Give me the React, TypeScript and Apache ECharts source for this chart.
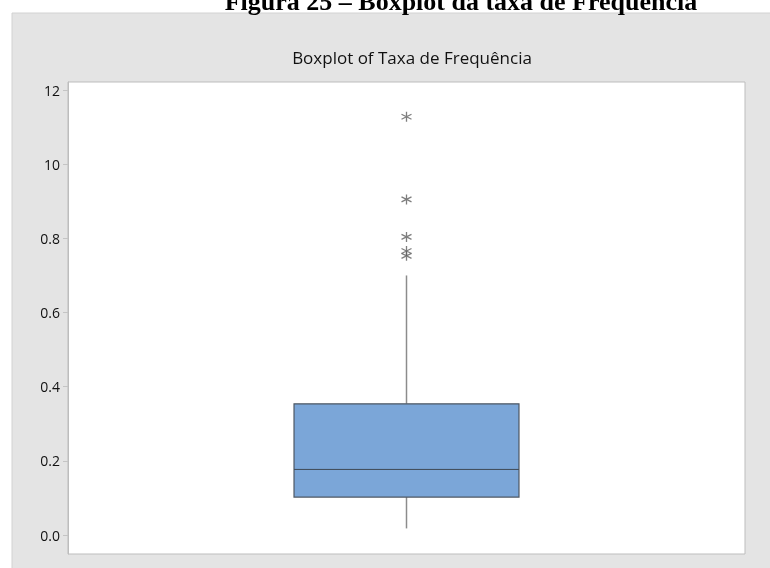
import React, { useEffect, useRef } from "react";
import * as echarts from "echarts";

// Box statistics: lower whisker, Q1, median, Q3, upper whisker
const category = ["Taxa de Frequência"];
const boxStats = [0.018, 0.1025, 0.177, 0.354, 0.70];
const outliers = [1.128, 0.905, 0.804, 0.766, 0.753];
const tickValues = [0, 0.2, 0.4, 0.6, 0.8, 1.0, 1.2];
const tickLabels = ["0.0", "0.2", "0.4", "0.6", "0.8", "10", "12"];

const asterisk =
  "path://M5,0 L5,10 M0.67,2.5 L9.33,7.5 M0.67,7.5 L9.33,2.5";

export default function App() {
  const ref = useRef<HTMLDivElement>(null);

  useEffect(() => {
    if (!ref.current) return;
    const chart = echarts.init(ref.current, null, { renderer: "svg" });

    const boxData = category.map((_, i) => [i, ...boxStats]);
    const outlierData = outliers.map((v) => [0, v]);

    chart.setOption({
      animation: false,
      graphic: [
        {
          type: "rect",
          shape: { x: 12, y: 13, width: 770, height: 568 },
          style: { fill: "#e4e4e4", stroke: "#d2d2d2", lineWidth: 1 },
          z: -10,
        },
        {
          type: "text",
          x: 461,
          y: 14,
          z: 10,
          style: {
            text: "Figura 25 – Boxplot da taxa de Frequência",
            font: "bold 26px 'Liberation Serif', 'Times New Roman', serif",
            fill: "#000",
            align: "center",
            verticalAlign: "bottom",
          },
        },
      ],
      title: {
        text: "Boxplot of Taxa de Frequência",
        left: 407,
        top: 44,
        textAlign: "center",
        textStyle: {
          fontFamily: "'Open Sans', 'Noto Sans', sans-serif",
          fontSize: 17,
          fontWeight: 500,
          color: "#111",
        },
      },
      grid: {
        left: 68,
        top: 82,
        right: 25,
        bottom: 14,
        show: true,
        backgroundColor: "#ffffff",
        borderColor: "#bdbdbd",
        borderWidth: 1,
      },
      xAxis: {
        type: "category",
        data: category,
        axisLine: { show: false },
        axisTick: { show: false },
        axisLabel: { show: false },
        splitLine: { show: false },
      },
      yAxis: {
        type: "value",
        min: -0.051,
        max: 1.2216,
        axisLine: { show: true, lineStyle: { color: "#bdbdbd" } },
        axisTick: {
          show: true,
          length: 5,
          customValues: tickValues,
          lineStyle: { color: "#c4c4c4" },
        },
        axisLabel: {
          customValues: tickValues,
          margin: 8,
          color: "#111",
          fontSize: 14,
          fontWeight: 500,
          fontFamily: "'Open Sans', 'Noto Sans', sans-serif",
          formatter: (v: number) => {
            const idx = tickValues.findIndex((t) => Math.abs(t - v) < 1e-6);
            return idx >= 0 ? tickLabels[idx] : "";
          },
        },
        splitLine: { show: false },
      },
      series: [
        {
          type: "custom",
          data: boxData,
          renderItem: (params: any, api: any) => {
            const x = api.value(0);
            const lo = api.coord([x, api.value(1)]);
            const q1 = api.coord([x, api.value(2)]);
            const med = api.coord([x, api.value(3)]);
            const q3 = api.coord([x, api.value(4)]);
            const hi = api.coord([x, api.value(5)]);
            const halfW = (api.size([1, 0])[0] * 0.3323) / 2;
            const cx = q1[0];
            const whisker = { stroke: "#8c8c8c", lineWidth: 1.5 };
            return {
              type: "group",
              children: [
                {
                  type: "line",
                  shape: { x1: cx, y1: q3[1], x2: cx, y2: hi[1] },
                  style: whisker,
                },
                {
                  type: "line",
                  shape: { x1: cx, y1: q1[1], x2: cx, y2: lo[1] },
                  style: whisker,
                },
                {
                  type: "rect",
                  shape: {
                    x: cx - halfW,
                    y: q3[1],
                    width: halfW * 2,
                    height: q1[1] - q3[1],
                  },
                  style: { fill: "#7ba6d8", stroke: "#4d5763", lineWidth: 1.2 },
                },
                {
                  type: "line",
                  shape: { x1: cx - halfW, y1: med[1], x2: cx + halfW, y2: med[1] },
                  style: { stroke: "#3f4a56", lineWidth: 1 },
                },
              ],
            };
          },
        },
        {
          type: "scatter",
          data: outlierData,
          symbol: asterisk,
          symbolSize: 10,
          itemStyle: {
            color: "none",
            borderColor: "#5e5e5e",
            borderWidth: 1.3,
          },
        },
      ],
    });

    return () => chart.dispose();
  }, []);

  return (
    <div
      ref={ref}
      style={{ position: "fixed", left: 0, top: 0, width: 770, height: 568 }}
    />
  );
}
